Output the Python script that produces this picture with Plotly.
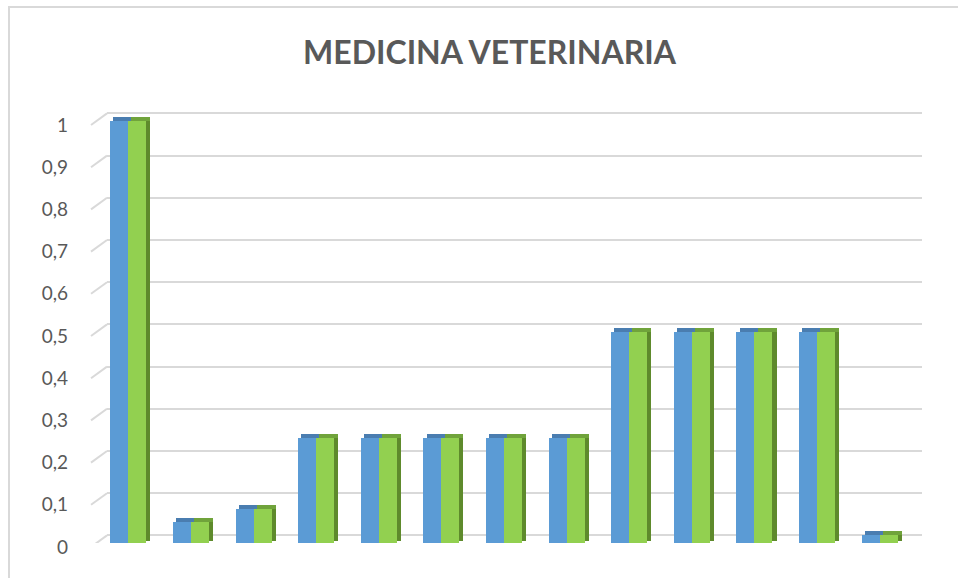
import plotly.graph_objects as go

# ---- data ----
categories = [str(i) for i in range(1, 14)]
serie_1 = [1, 0.05, 0.08, 0.25, 0.25, 0.25, 0.25, 0.25, 0.5, 0.5, 0.5, 0.5, 0.02]
serie_2 = [1, 0.05, 0.08, 0.25, 0.25, 0.25, 0.25, 0.25, 0.5, 0.5, 0.5, 0.5, 0.02]
tick_vals = [0, 0.1, 0.2, 0.3, 0.4, 0.5, 0.6, 0.7, 0.8, 0.9, 1]
tick_text = ["0", "0,1", "0,2", "0,3", "0,4", "0,5", "0,6", "0,7", "0,8", "0,9", "1"]
title_text = "MEDICINA VETERINARIA"

W, H = 958, 578
BLUE, BLUE_TOP = "#5b9bd5", "#4a7db0"
GREEN, GREEN_TOP, GREEN_SIDE = "#92d050", "#70a33b", "#5e8a2c"
GRID = "#d9d9d9"
TXT = "#595959"

xs = list(range(len(categories)))
bw = 0.2875          # bar width in category units
sw = 0.065           # side face width
depth = 0.009        # top-face height in value units
back_off = 0.018     # back-wall offset in value units

def px_x(p):
    return p / W

def px_y(p):
    return (H - p) / H

ydom = [px_y(543), px_y(100)]
yr = 443 / 422

fig = go.Figure()

# dummy trace so the back-wall grid subplot is drawn (underneath the bars)
fig.add_trace(go.Scatter(x=[None], y=[None], xaxis="x", yaxis="y", showlegend=False, hoverinfo="skip"))

# front faces
fig.add_trace(go.Bar(x=xs, y=serie_1, offset=-bw, width=bw, marker=dict(color=BLUE, line=dict(width=0)),
                     xaxis="x2", yaxis="y2", name="Serie 1", showlegend=False))
fig.add_trace(go.Bar(x=xs, y=serie_2, offset=0, width=bw, marker=dict(color=GREEN, line=dict(width=0)),
                     xaxis="x2", yaxis="y2", name="Serie 2", showlegend=False))
# side face of green bar
fig.add_trace(go.Bar(x=xs, y=serie_2, base=[depth / 2] * len(xs), offset=bw, width=sw,
                     marker=dict(color=GREEN_SIDE, line=dict(width=0)),
                     xaxis="x2", yaxis="y2", showlegend=False, hoverinfo="skip"))
# top faces
fig.add_trace(go.Bar(x=xs, y=[depth] * len(xs), base=serie_1, offset=-bw + 0.05, width=bw,
                     marker=dict(color=BLUE_TOP, line=dict(width=0)),
                     xaxis="x2", yaxis="y2", showlegend=False, hoverinfo="skip"))
fig.add_trace(go.Bar(x=xs, y=[depth] * len(xs), base=serie_2, offset=0.05, width=bw + sw - 0.05,
                     marker=dict(color=GREEN_TOP, line=dict(width=0)),
                     xaxis="x2", yaxis="y2", showlegend=False, hoverinfo="skip"))

shapes = []
# diagonal floor/wall ticks at the left
for v in tick_vals:
    shapes.append(dict(type="line", xref="paper", yref="y2",
                       x0=px_x(91), x1=px_x(107), y0=v - 0.0095, y1=v + back_off,
                       line=dict(color=GRID, width=2), layer="below"))
# chart border (left and top edges; right/bottom lie outside the picture)
shapes.append(dict(type="line", xref="paper", yref="paper",
                   x0=px_x(9), x1=px_x(9), y0=0, y1=px_y(6),
                   line=dict(color=GRID, width=2), layer="below"))
shapes.append(dict(type="line", xref="paper", yref="paper",
                   x0=px_x(8), x1=1, y0=px_y(7), y1=px_y(7),
                   line=dict(color=GRID, width=2), layer="below"))

fig.update_layout(
    width=W, height=H, autosize=False,
    margin=dict(l=0, r=0, t=0, b=0, pad=0, autoexpand=False),
    paper_bgcolor="white", plot_bgcolor="rgba(0,0,0,0)",
    barmode="overlay", bargap=0,
    showlegend=False,
    shapes=shapes,
    # back wall gridlines
    xaxis=dict(domain=[px_x(107), px_x(922)], range=[0, 1], showgrid=False, zeroline=False,
               showticklabels=False, showline=False, fixedrange=True, anchor="y", automargin=False),
    yaxis=dict(domain=ydom, range=[-back_off, yr - back_off], tickvals=tick_vals,
               showgrid=True, gridcolor=GRID, gridwidth=2, zeroline=False,
               showticklabels=False, showline=False, anchor="x", automargin=False),
    # front bars
    xaxis2=dict(domain=[px_x(97), px_x(911)], range=[-0.5, 12.5], showgrid=False, zeroline=False,
                showticklabels=False, showline=False, anchor="y2", automargin=False),
    yaxis2=dict(domain=ydom, range=[0, yr], tickvals=tick_vals, ticktext=tick_text,
                showgrid=False, zeroline=False, showline=False, anchor="x2", automargin=False,
                ticks="", ticklabelstandoff=28, ticklabelshift=4,
                tickfont=dict(family="Lato, Open Sans, sans-serif", size=19, color=TXT)),
    annotations=[dict(text=f"<b>{title_text}</b>", xref="paper", yref="paper",
                      x=px_x(490), y=px_y(51), xanchor="center", yanchor="middle",
                      showarrow=False,
                      font=dict(family="Lato, Open Sans, sans-serif", size=32, color=TXT))],
)

fig.write_html(
    "out.html",
    config={"displayModeBar": False},
    post_script="document.body.style.margin='0';document.body.style.overflow='hidden';",
)
